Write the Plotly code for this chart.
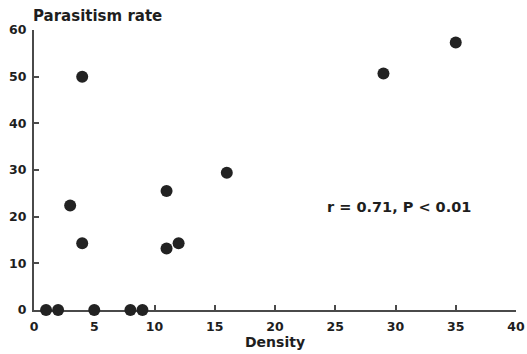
import plotly.graph_objects as go

density = [1, 2, 5, 8, 9, 4, 3, 4, 11, 11, 12, 16, 29, 35]
parasitism = [0, 0, 0, 0, 0, 50, 22.4, 14.3, 25.5, 13.2, 14.3, 29.4, 50.7, 57.3]
x_ticks = [0, 5, 10, 15, 20, 25, 30, 35, 40]
y_ticks = [0, 10, 20, 30, 40, 50, 60]
stat_text = "r = 0.71, P < 0.01"

FONT = "DejaVu Sans, Verdana, sans-serif"
INK = "#1e1e1e"

fig = go.Figure()
fig.add_trace(go.Scatter(
    x=density, y=parasitism, mode="markers",
    marker=dict(size=12, color="#222222", line=dict(width=0)),
    cliponaxis=False, hoverinfo="x+y", showlegend=False,
))

fig.update_layout(
    width=527, height=354,
    margin=dict(l=34, r=11, t=30, b=44),
    paper_bgcolor="white", plot_bgcolor="white",
    font=dict(family=FONT, color=INK, size=12),
    xaxis=dict(
        range=[0, 40], tickvals=x_ticks, ticktext=[f"<b>{v}</b>" for v in x_ticks],
        showgrid=False, zeroline=False, showline=True, linecolor="#4a4a4a", linewidth=2,
        ticks="inside", ticklen=5, tickwidth=1.5, tickcolor="#4a4a4a",
        layer="below traces", tickfont=dict(size=12.5, color=INK),
        automargin=False, ticklabelstandoff=4,
        title=dict(text="<b>Density</b>", font=dict(size=14, color=INK), standoff=1),
    ),
    yaxis=dict(
        range=[0, 60], tickvals=y_ticks, ticktext=[f"<b>{v}</b>" for v in y_ticks],
        showgrid=False, zeroline=False, showline=True, linecolor="#4a4a4a", linewidth=2,
        ticks="inside", ticklen=5, tickwidth=1.5, tickcolor="#4a4a4a",
        layer="below traces", tickfont=dict(size=12.5, color=INK),
        automargin=False, ticklabelstandoff=3,
    ),
    annotations=[
        dict(text="<b>Parasitism rate</b>", xref="paper", yref="paper", x=0, y=1,
             xanchor="left", yanchor="bottom", yshift=3, xshift=-3, showarrow=False,
             font=dict(size=15, color=INK)),
        dict(text=f"<b>{stat_text}</b>", xref="x", yref="y", x=30.3, y=22,
             xanchor="center", yanchor="middle", showarrow=False,
             font=dict(size=14.5, color=INK)),
    ],
)

# remove the page's default body margin so the figure fills the window exactly
fig.write_html(
    "out.html",
    config={"displayModeBar": False},
    post_script="document.body.style.margin='0';document.body.style.overflow='hidden';",
)
